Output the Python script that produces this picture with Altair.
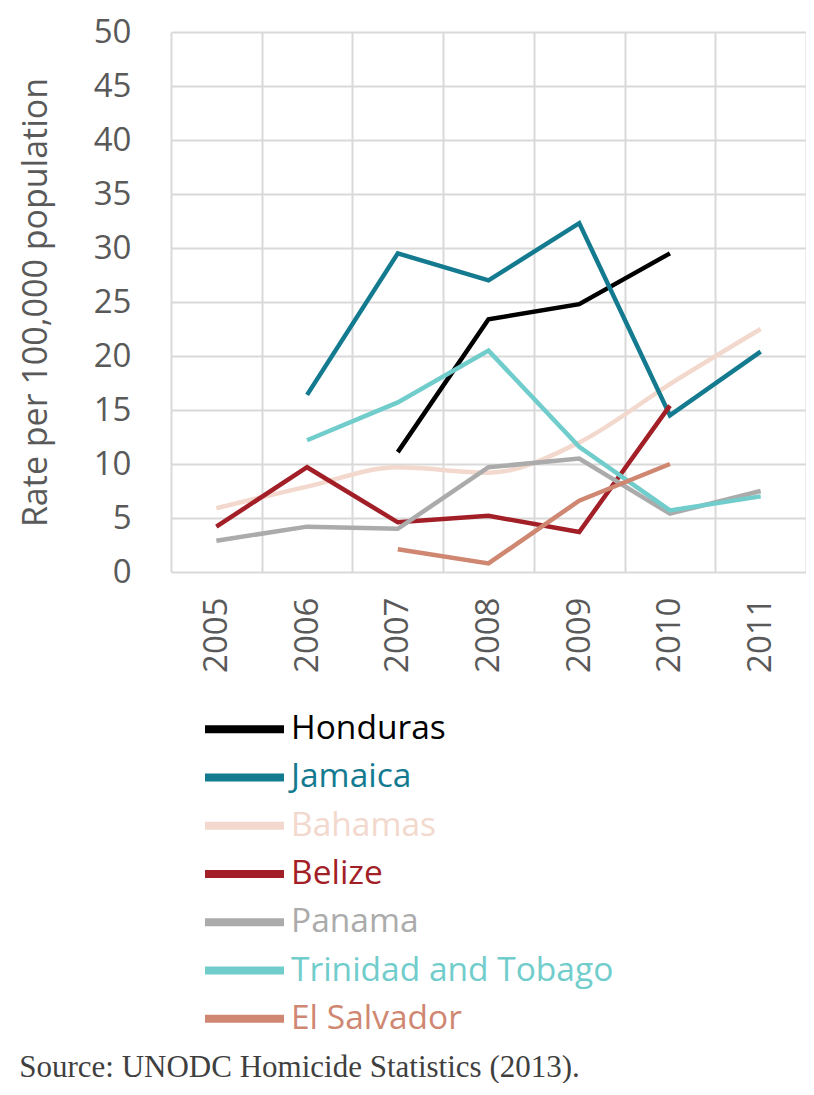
import altair as alt
import pandas as pd

years = ["2005", "2006", "2007", "2008", "2009", "2010", "2011"]
countries = ["Honduras", "Jamaica", "Bahamas", "Belize", "Panama",
             "Trinidad and Tobago", "El Salvador"]
colors = ["#000000", "#137a8f", "#f3d8cd", "#a31f27", "#ababab",
          "#70cdcb", "#cf8772"]

honduras = [None, None, 11.1, 23.4, 24.8, 29.5, None]
jamaica = [None, 16.4, 29.5, 27.0, 32.3, 14.5, 20.4]
bahamas = [5.9, 7.9, 9.7, 9.2, 12.0, 17.4, 22.5]
belize = [4.2, 9.7, 4.6, 5.2, 3.7, 15.4, None]
panama = [2.9, 4.2, 4.0, 9.7, 10.5, 5.4, 7.5]
trinidad = [None, 12.2, 15.7, 20.5, 11.6, 5.7, 7.0]
el_salvador = [None, None, 2.1, 0.8, 6.6, 10.0, None]

series = [honduras, jamaica, bahamas, belize, panama, trinidad, el_salvador]
rows = []
for name, vals in zip(countries, series):
    for y, v in zip(years, vals):
        if v is not None:
            rows.append({"year": y, "country": name, "rate": v})
df = pd.DataFrame(rows)
leg = pd.DataFrame({"country": countries})

FONT = "Open Sans"
GRAY = "#595959"
GRID = "#d9d9d9"

color = alt.Color("country:N", scale=alt.Scale(domain=countries, range=colors), legend=None)

x = alt.X("year:O", title=None,
          scale=alt.Scale(type="band", paddingInner=0, paddingOuter=0),
          axis=alt.Axis(tickBand="extent", grid=True, gridColor=GRID, gridWidth=2,
                        domain=False, ticks=False, labelAngle=-90, labelPadding=25,
                        labelFont=FONT, labelFontSize=33, labelColor=GRAY))
y = alt.Y("rate:Q", title="Rate per 100,000 population",
          scale=alt.Scale(domain=[0, 50], nice=False),
          axis=alt.Axis(values=list(range(0, 51, 5)), grid=True, gridColor=GRID, gridWidth=2,
                        domain=False, ticks=False, labelPadding=40,
                        labelFont=FONT, labelFontSize=33, labelColor=GRAY,
                        titleFont=FONT, titleFontSize=34, titleColor=GRAY,
                        titleFontWeight="normal", titlePadding=40))

base = alt.Chart(df).encode(x=x, y=y, color=color, order=alt.Order("year:O"))
lines = base.transform_filter(alt.datum.country != "Bahamas").mark_line(strokeWidth=4.5)
bah = base.transform_filter(alt.datum.country == "Bahamas").mark_line(strokeWidth=4.5, interpolate="monotone")
main = alt.layer(bah, lines).properties(width=635, height=540)

ly = alt.Y("country:N", sort=countries, axis=None, scale=alt.Scale(type="point", padding=0.5))
sym = alt.Chart(leg).mark_rule(strokeWidth=8).encode(
    x=alt.value(34), x2=alt.value(113), y=ly, color=color)
txt = alt.Chart(leg).mark_text(align="left", baseline="middle", font=FONT, fontSize=33.5).encode(
    x=alt.value(120), y=ly, text="country:N", color=color)
legend = alt.layer(sym, txt).properties(width=635, height=338)

chart = alt.vconcat(main, legend, spacing=32).properties(
    padding={"left": 11, "top": 8, "right": 0, "bottom": 0},
    title=alt.TitleParams(text="Source: UNODC Homicide Statistics (2013).", orient="bottom",
                          anchor="start", font="Liberation Serif", fontSize=31,
                          fontWeight="normal", color="#3f3f3f", baseline="bottom",
                          offset=41),
).configure_view(stroke=None)

chart.save("out.html", embed_options={"renderer": "svg", "actions": False})
